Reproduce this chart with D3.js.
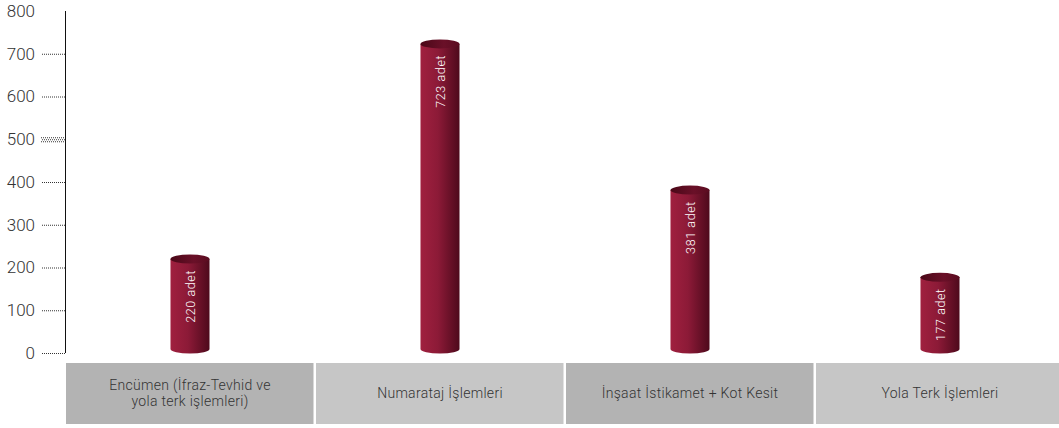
<!DOCTYPE html>
<html>
<head>
<meta charset="utf-8">
<script src="https://cdn.jsdelivr.net/npm/d3@7"></script>
<style>
  html, body { margin: 0; padding: 0; background: #fff; }
  svg { display: block; }
</style>
</head>
<body>
<div id="chart"></div>
<script>
const categories = [
  ['Encümen (İfraz-Tevhid ve', 'yola terk işlemleri)'],
  ['Numarataj İşlemleri'],
  ['İnşaat İstikamet + Kot Kesit'],
  ['Yola Terk İşlemleri']
];
const values = [220, 723, 381, 177];
const yTicks = [0, 100, 200, 300, 400, 500, 600, 700, 800];

const W = 1059, H = 428;
const svg = d3.select('#chart').append('svg').attr('width', W).attr('height', H);

const x = d3.scaleBand().domain(d3.range(values.length)).range([65, 1065]);
const y = d3.scaleLinear().domain([0, 800]).range([353, 11]);

const defs = svg.append('defs');
const bodyGrad = defs.append('linearGradient').attr('id', 'body');
bodyGrad.append('stop').attr('offset', '0%').attr('stop-color', '#a0203f');
bodyGrad.append('stop').attr('offset', '45%').attr('stop-color', '#8c1a37');
bodyGrad.append('stop').attr('offset', '100%').attr('stop-color', '#4e0a1c');
const capGrad = defs.append('linearGradient').attr('id', 'cap');
capGrad.append('stop').attr('offset', '0%').attr('stop-color', '#4a0818');
capGrad.append('stop').attr('offset', '60%').attr('stop-color', '#6a1028');
capGrad.append('stop').attr('offset', '100%').attr('stop-color', '#5a0c20');

// y axis with dotted ticks
const yAxis = svg.append('g')
  .attr('transform', 'translate(65,0)')
  .call(d3.axisLeft(y).tickValues(yTicks).tickSize(24).tickPadding(6));
yAxis.select('.domain').remove();
yAxis.selectAll('.tick line')
  .attr('stroke', '#333').attr('stroke-dasharray', '1,1')
  .attr('display', d => d === 800 ? 'none' : null);
yAxis.selectAll('.tick text')
  .attr('fill', '#333').style('font-family', 'Roboto, sans-serif')
  .style('font-size', '17px').style('font-weight', 300);
yAxis.selectAll('.tick').filter(d => d === 500).each(function () {
  const g = d3.select(this);
  [-2, 2].forEach(o => g.append('line').attr('x1', -24).attr('x2', 0)
    .attr('y1', o).attr('y2', o).attr('stroke', '#333').attr('stroke-dasharray', '1,1'));
});
svg.append('line').attr('x1', 65.5).attr('x2', 65.5).attr('y1', 11).attr('y2', 353)
  .attr('stroke', '#111').attr('stroke-width', 1);

// category boxes
const boxes = svg.append('g').selectAll('g').data(categories).join('g');
boxes.append('rect')
  .attr('x', (d, i) => x(i) + 1)
  .attr('y', 363)
  .attr('width', x.bandwidth() - 2.5)
  .attr('height', 61)
  .attr('fill', (d, i) => i % 2 === 0 ? '#b3b3b3' : '#c6c6c6');
boxes.append('text')
  .attr('x', (d, i) => x(i) + x.bandwidth() / 2)
  .attr('text-anchor', 'middle')
  .attr('fill', '#333')
  .style('font-family', 'Roboto, sans-serif')
  .style('font-size', '14px')
  .style('font-weight', 300)
  .style('letter-spacing', '0.3px')
  .each(function (d) {
    const t = d3.select(this);
    const startY = 398 - (d.length - 1) * 8;
    d.forEach((line, k) => t.append('tspan')
      .attr('x', t.attr('x')).attr('y', startY + k * 16).text(line));
  });

// cylinders
const ry = 4.5, rw = 19.5;
const bars = svg.append('g').selectAll('g').data(values).join('g');
bars.append('path')
  .attr('fill', 'url(#body)')
  .attr('d', (d, i) => {
    const cx = x(i) + x.bandwidth() / 2;
    const yt = y(d), yb = y(0) - 4;
    return `M${cx - rw},${yt} L${cx - rw},${yb} A${rw},${ry} 0 0 0 ${cx + rw},${yb} L${cx + rw},${yt} Z`;
  });
bars.append('ellipse')
  .attr('cx', (d, i) => x(i) + x.bandwidth() / 2)
  .attr('cy', d => y(d))
  .attr('rx', rw).attr('ry', ry)
  .attr('fill', 'url(#cap)');
bars.append('text')
  .attr('transform', (d, i) => `translate(${x(i) + x.bandwidth() / 2 + 4.5},${y(d) + 11}) rotate(-90)`)
  .attr('text-anchor', 'end')
  .attr('fill', '#fff')
  .style('font-family', 'Roboto, sans-serif')
  .style('font-size', '12.5px')
  .style('font-weight', 300)
  .style('letter-spacing', '0.6px')
  .text(d => `${d} adet`);
</script>
</body>
</html>
